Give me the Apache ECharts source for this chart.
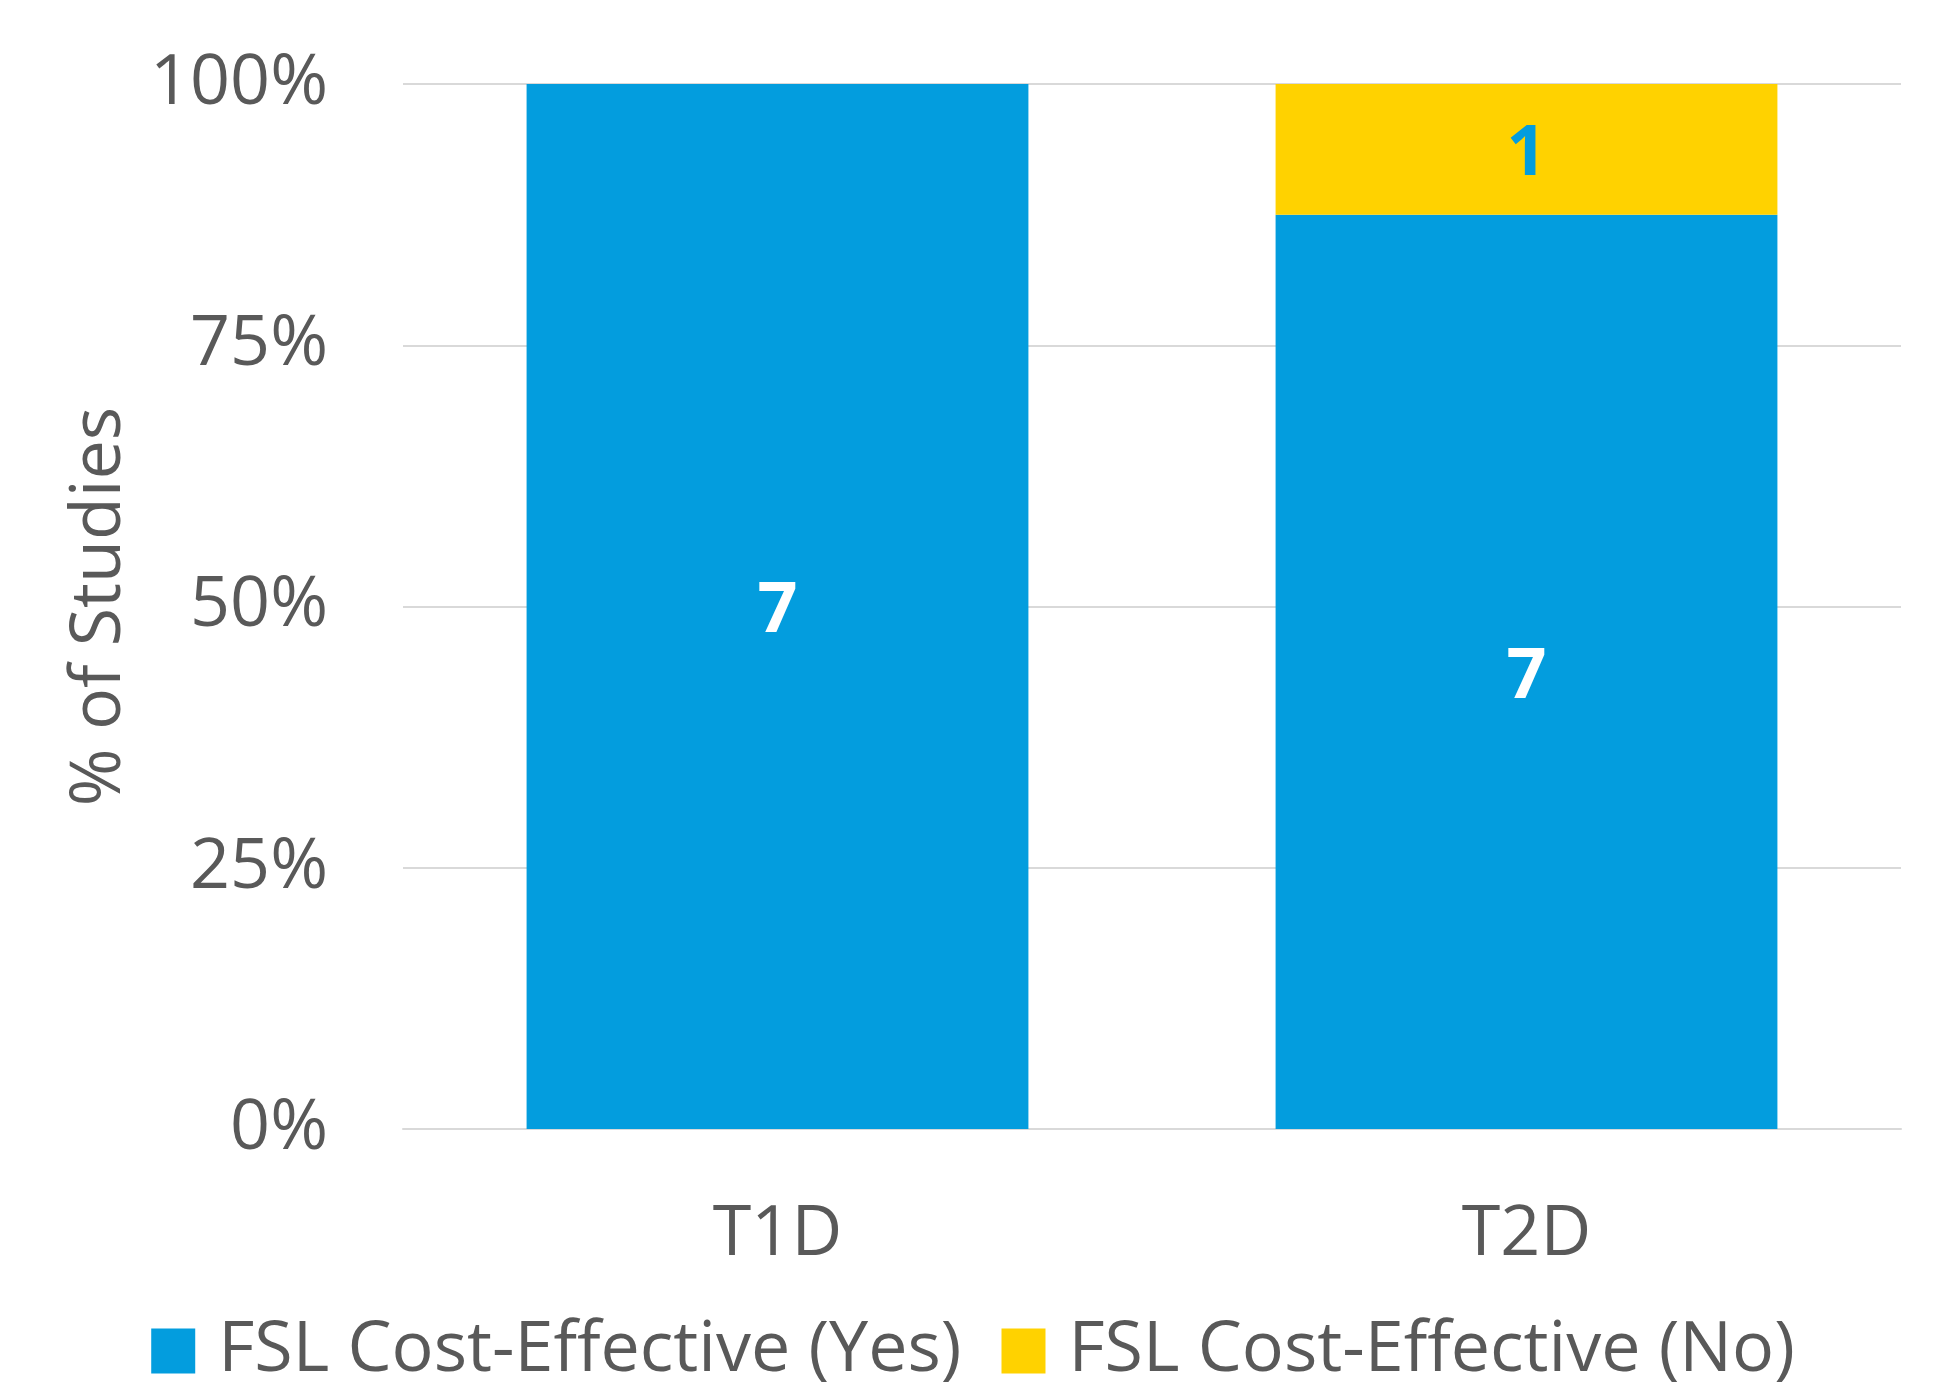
<!DOCTYPE html>
<html>
<head>
<meta charset="utf-8">
<script src="https://cdn.jsdelivr.net/npm/echarts@6/dist/echarts.min.js"></script>
<style>
html,body{margin:0;padding:0;background:#fff;}
#chart{width:1946px;height:1383px;}
</style>
</head>
<body>
<div id="chart"></div>
<script>
var categories = ['T1D', 'T2D'];
var yesCounts = [7, 7];
var noCounts = [0, 1];
var seriesNames = ['FSL Cost-Effective (Yes)', 'FSL Cost-Effective (No)'];
var yTicks = [0, 25, 50, 75, 100];

var totals = categories.map(function (c, i) { return yesCounts[i] + noCounts[i]; });
var yesPct = yesCounts.map(function (v, i) { return v / totals[i] * 100; });
var noPct = noCounts.map(function (v, i) { return v / totals[i] * 100; });

var FONT = '"Open Sans", sans-serif';
var GRAY = '#595959';

var chart = echarts.init(document.getElementById('chart'));
chart.setOption({
  animation: false,
  textStyle: { fontFamily: FONT },
  grid: { left: 403, right: 45, top: 84, bottom: 254, containLabel: false },
  legend: {
    bottom: -8,
    left: 'center',
    itemWidth: 44,
    itemHeight: 45,
    itemGap: 40,
    icon: 'rect',
    textStyle: { fontFamily: FONT, fontSize: 70, color: GRAY, padding: [0, 0, 0, 18] },
    data: seriesNames
  },
  xAxis: {
    type: 'category',
    data: categories,
    axisLine: { lineStyle: { color: '#D9D9D9', width: 2 } },
    axisTick: { show: false },
    axisLabel: { fontFamily: FONT, fontSize: 70, color: GRAY, margin: 71 }
  },
  yAxis: {
    type: 'value',
    min: 0,
    max: 100,
    interval: 25,
    name: '% of Studies',
    nameLocation: 'middle',
    nameGap: 268,
    nameTextStyle: { fontFamily: FONT, fontSize: 70, color: GRAY },
    axisLine: { show: false },
    axisTick: { show: false },
    splitLine: { lineStyle: { color: '#D9D9D9', width: 2 } },
    axisLabel: {
      fontFamily: FONT, fontSize: 70, color: GRAY, margin: 75,
      formatter: function (v) { return yTicks.indexOf(v) >= 0 ? v + '%' : ''; }
    }
  },
  series: [
    {
      name: seriesNames[0],
      type: 'bar',
      stack: 'total',
      barCategoryGap: '33%',
      data: yesPct,
      itemStyle: { color: '#039DDE' },
      label: {
        show: true,
        position: 'inside',
        offset: [0, 6],
        fontFamily: FONT,
        fontSize: 70,
        fontWeight: 'bold',
        color: '#FFFFFF',
        formatter: function (p) { return yesCounts[p.dataIndex] > 0 ? String(yesCounts[p.dataIndex]) : ''; }
      }
    },
    {
      name: seriesNames[1],
      type: 'bar',
      stack: 'total',
      barCategoryGap: '33%',
      data: noPct,
      itemStyle: { color: '#FFD200' },
      label: {
        show: true,
        position: 'inside',
        offset: [0, 6],
        fontFamily: FONT,
        fontSize: 70,
        fontWeight: 'bold',
        color: '#039DDE',
        formatter: function (p) { return noCounts[p.dataIndex] > 0 ? String(noCounts[p.dataIndex]) : ''; }
      }
    }
  ]
});
</script>
</body>
</html>
